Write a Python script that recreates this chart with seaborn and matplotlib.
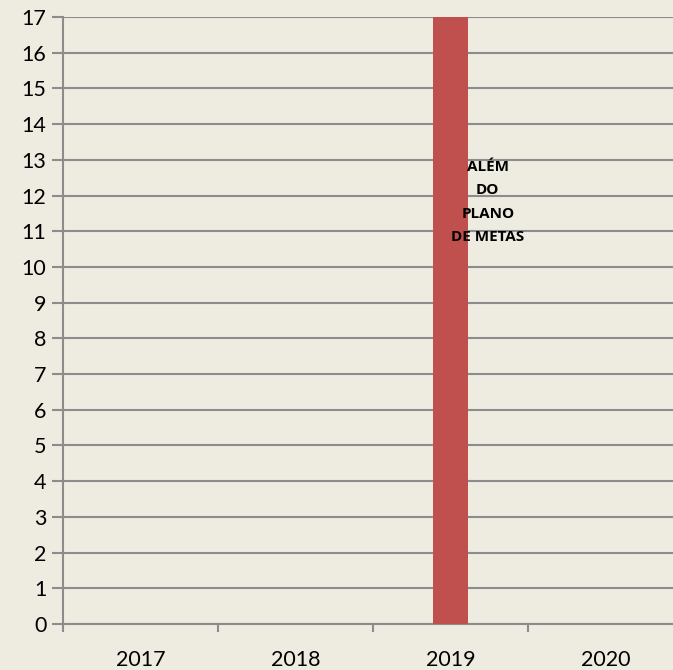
import pandas as pd
import matplotlib
matplotlib.use("Agg")
import matplotlib.pyplot as plt
import seaborn as sns

# data
anos = ["2017", "2018", "2019", "2020"]
valores = [0, 0, 17, 0]
rotulo = "ALÉM\nDO\nPLANO\nDE METAS"

df = pd.DataFrame({"ano": anos, "valor": valores})

bg = "#EEECE1"
grid_c = "#8C8C8C"

sns.set_theme(style="white")
plt.rcParams["font.family"] = ["Lato", "DejaVu Sans"]

fig = plt.figure(figsize=(6.73, 6.70), dpi=100, facecolor=bg)
ax = fig.add_axes([63 / 673, 46 / 670, 620 / 673, 607 / 670])
ax.set_facecolor(bg)

sns.barplot(data=df, x="ano", y="valor", color="#C0504D", width=0.226,
            saturation=1, linewidth=0, ax=ax, zorder=3)

ax.set_ylim(0, 17)
ax.set_xlim(-0.5, 3.5)
ax.set_yticks(range(0, 18))
ax.yaxis.grid(True, color=grid_c, linewidth=1.5, zorder=0)
ax.set_axisbelow(True)

# ticks between categories on x
ax.set_xticks([-0.5, 0.5, 1.5, 2.5, 3.5], minor=False)
ax.set_xticklabels([])
ax.set_xticks([0, 1, 2, 3], minor=True)
ax.set_xticklabels(anos, minor=True)
ax.tick_params(axis="x", which="major", length=6, width=1.5, color=grid_c,
               direction="out", bottom=True)
ax.tick_params(axis="x", which="minor", length=0, labelsize=15.5, pad=19,
               labelcolor="black")
ax.tick_params(axis="y", length=8, width=1.5, color=grid_c, direction="out",
               left=True, labelsize=15.5, pad=4, labelcolor="black")

for s in ["top", "right"]:
    ax.spines[s].set_visible(False)
ax.spines["left"].set_color(grid_c)
ax.spines["left"].set_linewidth(1.5)
ax.spines["bottom"].set_color(grid_c)
ax.spines["bottom"].set_linewidth(1.5)

ax.set_xlabel("")
ax.set_ylabel("")

ax.text(2.24, 11.82, rotulo, ha="center", va="center", fontsize=11,
        fontweight="bold", linespacing=1.85, zorder=4,
        family=["Open Sans", "DejaVu Sans"], color="black")

fig.savefig("out.png", dpi=100, facecolor=bg)
